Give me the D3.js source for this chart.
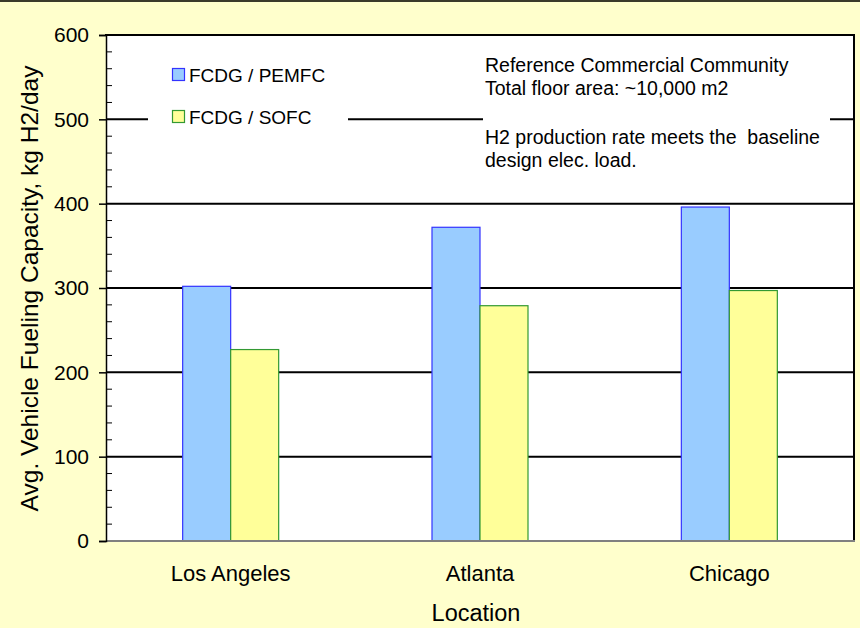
<!DOCTYPE html>
<html>
<head>
<meta charset="utf-8">
<script src="https://cdn.jsdelivr.net/npm/d3@7"></script>
<style>
  html, body { margin: 0; padding: 0; background: #FFFFCC; }
  svg { display: block; }
  text { font-family: "Liberation Sans", Arial, sans-serif; fill: #000; }
</style>
</head>
<body>
<svg id="chart" width="860" height="628"></svg>
<script>
const categories = ["Los Angeles", "Atlanta", "Chicago"];
const seriesNames = ["FCDG / PEMFC", "FCDG / SOFC"];
const pemfcValues = [302, 372, 396];
const sofcValues = [227, 279, 297];
const yTicks = [0, 100, 200, 300, 400, 500, 600];
const notes = ["Reference Commercial Community", "Total floor area: ~10,000 m2",
               "H2 production rate meets the  baseline", "design elec. load."];

(function () {
const seriesData = [pemfcValues, sofcValues];
const fills = ["#99CCFF", "#FFFF99"];
const strokes = ["#3333FF", "#339933"];

const svg = d3.select("#chart");
const W = 860, H = 628;
const pL = 106, pR = 854, pT = 35, pB = 541;

svg.append("rect").attr("x", 0).attr("y", 0).attr("width", W).attr("height", H).attr("fill", "#FFFFCC");
svg.append("line").attr("x1", 0).attr("x2", W).attr("y1", 1).attr("y2", 1).attr("stroke", "#3a3a2a").attr("stroke-width", 2);

const x = d3.scaleBand().domain(categories).range([pL, pR]).paddingInner(0).paddingOuter(0);
const xs = d3.scaleBand().domain(seriesNames).range([-48, 48]).padding(0);
const y = d3.scaleLinear().domain([0, 600]).range([pB, pT]);

// plot background
svg.append("rect").attr("x", pL).attr("y", pT).attr("width", pR - pL).attr("height", pB - pT).attr("fill", "#FFFFFF");

// gridlines
svg.append("g").selectAll("line").data(yTicks.filter(d => d > 0 && d < 600)).join("line")
  .attr("x1", pL).attr("x2", pR)
  .attr("y1", d => y(d)).attr("y2", d => y(d))
  .attr("stroke", "#000").attr("stroke-width", 2);

// legend box & note box (white, covering gridline)
svg.append("rect").attr("x", 148).attr("y", 52).attr("width", 200).attr("height", 86).attr("fill", "#FFFFFF");
svg.append("rect").attr("x", 483).attr("y", 45).attr("width", 347).attr("height", 150).attr("fill", "#FFFFFF");

// bars
seriesData.forEach((vals, si) => {
  svg.append("g").selectAll("rect").data(categories).join("rect")
    .attr("x", c => x(c) + x.bandwidth() / 2 + xs(seriesNames[si]))
    .attr("width", xs.bandwidth())
    .attr("y", (c, i) => y(vals[i]))
    .attr("height", (c, i) => y(0) - y(vals[i]))
    .attr("fill", fills[si])
    .attr("stroke", strokes[si])
    .attr("stroke-width", 1.2);
});

// frame
svg.append("line").attr("x1", pL - 1).attr("x2", pR + 1).attr("y1", pT).attr("y2", pT).attr("stroke", "#000").attr("stroke-width", 2);
svg.append("line").attr("x1", pR).attr("x2", pR).attr("y1", pT).attr("y2", pB).attr("stroke", "#000").attr("stroke-width", 2);
svg.append("line").attr("x1", pL).attr("x2", pR + 1).attr("y1", pB).attr("y2", pB).attr("stroke", "#808080").attr("stroke-width", 2);

// y axis
const yAxis = d3.axisLeft(y).tickValues(yTicks).tickSize(7).tickPadding(10).tickFormat(d3.format("d"));
const gy = svg.append("g").attr("transform", `translate(${pL},0)`).call(yAxis);
gy.select(".domain").attr("stroke", "#000").attr("stroke-width", 1.5);
gy.selectAll(".tick line").attr("stroke", "#000").attr("stroke-width", 1.5);
gy.selectAll(".tick text").attr("font-size", 21).attr("font-family", "Liberation Sans, Arial, sans-serif").attr("fill", "#000");

// minor ticks inside
const minor = d3.range(0, 601, 20).filter(d => d % 100 !== 0);
svg.append("g").selectAll("line").data(minor).join("line")
  .attr("x1", pL).attr("x2", pL + 6)
  .attr("y1", d => y(d)).attr("y2", d => y(d))
  .attr("stroke", "#000").attr("stroke-width", 1);

// x axis labels
svg.append("g").selectAll("text").data(categories).join("text")
  .attr("x", c => x(c) + x.bandwidth() / 2)
  .attr("y", 581)
  .attr("text-anchor", "middle")
  .attr("font-size", 22)
  .text(c => c);

svg.append("text").attr("x", 476).attr("y", 621).attr("text-anchor", "middle").attr("font-size", 23.5).text("Location");

svg.append("text")
  .attr("transform", "translate(37.5,288.5) rotate(-90)")
  .attr("text-anchor", "middle")
  .attr("font-size", 24.5)
  .text("Avg. Vehicle Fueling Capacity, kg H2/day");

// legend
const legY = [68, 110];
seriesNames.forEach((s, i) => {
  svg.append("rect").attr("x", 172.5).attr("y", legY[i] + 0.5).attr("width", 12).attr("height", 12)
    .attr("fill", fills[i]).attr("stroke", strokes[i]).attr("stroke-width", 1.2);
  svg.append("text").attr("x", 189).attr("y", legY[i] + 14).attr("font-size", 19).text(s);
});

// notes
const noteY = [71.5, 95, 143.5, 167];
notes.forEach((t, i) => {
  svg.append("text").attr("x", 485).attr("y", noteY[i]).attr("font-size", 19.5).style("white-space", "pre").text(t);
});
})();
</script>
</body>
</html>
